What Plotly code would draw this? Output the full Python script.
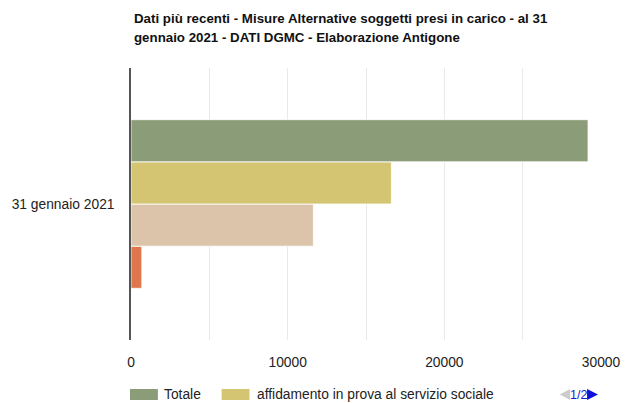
import plotly.graph_objects as go

# Data
category = ["31 gennaio 2021"]
series_names = [
    "Totale",
    "affidamento in prova al servizio sociale",
    "detenzione domiciliare",
    "semilibertà",
]
series_values = [
    [29172],
    [16620],
    [11640],
    [690],
]
series_colors = ["#8a9d78", "#d4c572", "#dcc4aa", "#e0764c"]
x_tick_values = [0, 10000, 20000, 30000]
x_tick_labels = ["0", "10000", "20000", "30000"]

title_lines = [
    "Dati più recenti - Misure Alternative soggetti presi in carico - al 31",
    "gennaio 2021 - DATI DGMC - Elaborazione Antigone",
]

W, H = 638, 403
M_L, M_R, M_T, M_B = 129, 37, 68, 63
PW, PH = W - M_L - M_R, H - M_T - M_B
FONT = "Liberation Sans, Arial, Helvetica, sans-serif"
TXT = 13.8


def px_x(x):
    return (x - M_L) / PW


def px_y(y):
    return (H - M_B - y) / PH


fig = go.Figure()
# grouped bars are stacked bottom-up, so add them in reverse to put "Totale" on top
for name, vals, col in reversed(list(zip(series_names, series_values, series_colors))):
    fig.add_trace(go.Bar(
        y=category, x=vals, name=name, orientation="h",
        marker=dict(color=col, line=dict(color="rgba(255,255,255,0.8)", width=1)),
        showlegend=False,
    ))

shapes = []
annotations = []

# two-line bold title
for i, line in enumerate(title_lines):
    annotations.append(dict(xref="paper", yref="paper", x=px_x(130), y=px_y(18 + 20 * i),
                            text="<b>" + line + "</b>", showarrow=False,
                            xanchor="left", yanchor="middle",
                            font=dict(family=FONT, size=13.3, color="#111")))

# legend (page 1 of 2): swatches + labels
legend_items = [(0, 128, 160), (1, 220, 254)]
for idx, sx, tx in legend_items:
    shapes.append(dict(type="rect", xref="paper", yref="paper",
                       x0=px_x(sx), x1=px_x(sx + 28), y0=px_y(400), y1=px_y(389),
                       fillcolor=series_colors[idx], line=dict(width=0)))
    annotations.append(dict(xref="paper", yref="paper", x=px_x(tx), y=px_y(394.5),
                            text=series_names[idx], showarrow=False,
                            xanchor="left", yanchor="middle",
                            font=dict(family=FONT, size=TXT, color="#222")))

# legend pager: previous (disabled), page number, next
def tri(points):
    return "M " + " L ".join(f"{px_x(a)},{px_y(b)}" for a, b in points) + " Z"

shapes.append(dict(type="path", xref="paper", yref="paper",
                   path=tri([(570, 389), (570, 400), (559.5, 394.5)]),
                   fillcolor="#cccccc", line=dict(width=0)))
shapes.append(dict(type="path", xref="paper", yref="paper",
                   path=tri([(587, 389), (587, 400), (598, 394.5)]),
                   fillcolor="#1010d8", line=dict(width=0)))
annotations.append(dict(xref="paper", yref="paper", x=px_x(578.5), y=px_y(394.5),
                        text="1/2", showarrow=False, xanchor="center", yanchor="middle",
                        font=dict(family=FONT, size=12.5, color="#1a1ad0")))

fig.update_layout(
    width=W, height=H,
    margin=dict(l=M_L, r=M_R, t=M_T, b=M_B, pad=0),
    paper_bgcolor="white", plot_bgcolor="white",
    barmode="group", bargap=0.38, bargroupgap=0.0,
    font=dict(family=FONT, size=TXT, color="#222"),
    shapes=shapes, annotations=annotations,
    xaxis=dict(range=[0, 30000], tickvals=x_tick_values, ticktext=x_tick_labels,
               showgrid=True, gridcolor="#e9e9e9", gridwidth=1,
               minor=dict(dtick=5000, showgrid=True, gridcolor="#e9e9e9", gridwidth=1),
               zeroline=False, showline=False,
               ticks="outside", ticklen=9, tickcolor="rgba(0,0,0,0)",
               tickfont=dict(family=FONT, size=TXT, color="#222"), fixedrange=True),
    yaxis=dict(showgrid=False, showline=True, linecolor="#555", linewidth=1.5,
               ticks="outside", ticklen=12, tickcolor="rgba(0,0,0,0)",
               tickfont=dict(family=FONT, size=TXT, color="#222"), fixedrange=True),
)

fig.write_html("out.html")
